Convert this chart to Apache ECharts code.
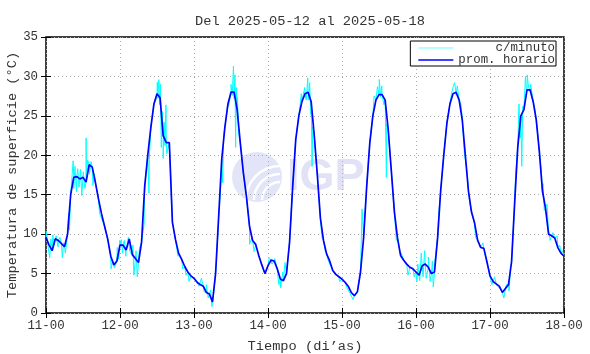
<!DOCTYPE html>
<html>
<head>
<meta charset="utf-8">
<script src="https://cdn.jsdelivr.net/npm/echarts@6/dist/echarts.min.js"></script>
<style>
html, body { margin: 0; padding: 0; background: #fff; }
#chart { width: 590px; height: 354px; }
</style>
</head>
<body>
<div id="chart"></div>
<script>
// x tick labels, one per day (hours from 11-00)
var tickLabels = ['11-00', '12-00', '13-00', '14-00', '15-00', '16-00', '17-00', '18-00'];

// hourly averages (prom. horario), 24 values per day
var may11 = [9.6, 8.6, 7.9, 9.4, 9.2, 8.8, 8.4, 10.0, 15.0, 17.2, 17.3, 17.0, 17.2, 16.6, 18.8, 18.5, 16.6, 14.5, 12.6, 11.0, 9.4, 7.2, 6.1, 6.6];
var may12 = [8.6, 8.6, 8.0, 9.4, 7.4, 6.9, 6.4, 9.0, 16.0, 20.0, 23.5, 26.5, 27.8, 27.3, 22.5, 21.6, 21.6, 11.5, 9.3, 7.6, 6.8, 5.9, 5.2, 4.7];
var may13 = [4.4, 3.9, 3.6, 3.4, 2.6, 2.4, 1.4, 5.0, 12.2, 19.5, 23.5, 26.5, 28.0, 28.0, 25.8, 21.6, 17.8, 14.8, 11.0, 9.2, 8.7, 7.3, 6.1, 5.0];
var may14 = [6.0, 6.7, 6.6, 5.6, 4.3, 4.1, 5.0, 9.0, 16.0, 22.0, 25.0, 26.8, 27.8, 28.0, 26.8, 22.5, 17.5, 12.0, 9.2, 7.5, 6.6, 5.4, 4.9, 4.6];
var may15 = [4.3, 3.9, 3.4, 2.6, 2.2, 2.7, 5.2, 9.5, 16.0, 21.5, 25.0, 27.0, 27.7, 27.7, 27.0, 23.2, 18.0, 12.8, 9.5, 7.3, 6.7, 6.2, 5.8, 5.6];
var may16 = [5.2, 4.8, 6.0, 6.2, 5.8, 5.0, 5.2, 9.5, 15.5, 20.0, 24.0, 26.5, 27.8, 28.0, 27.0, 24.5, 20.0, 15.5, 12.8, 11.4, 9.2, 8.3, 8.2, 6.5];
var may17 = [4.7, 4.0, 3.7, 3.4, 2.6, 3.1, 3.6, 6.5, 14.0, 21.0, 25.0, 25.8, 28.3, 28.3, 26.8, 24.5, 20.5, 15.5, 13.3, 10.0, 9.8, 9.5, 8.3, 7.6];
var may18 = [7.2];

// per-minute excursions (c/minuto): [hours from 11-00, degC]
var cMinuto = [
  [0.1, 10.4], [0.6, 8.6], [1.2, 7.0], [1.6, 9.4], [2.2, 9.9], [2.7, 8.6], [3.3, 9.8], [3.9, 8.4], [4.5, 9.6],
  [5.3, 7.0], [5.7, 8.9], [6.3, 7.6], [7.3, 12.6], [7.6, 10.5], [8.5, 17.6], [8.8, 19.3], [9.0, 15.8], [9.4, 18.6],
  [9.9, 15.4], [10.3, 18.3], [10.7, 16.0], [11.2, 18.2], [11.6, 14.9], [12.1, 17.9], [12.6, 15.8], [13.0, 22.2],
  [13.1, 16.8], [13.5, 19.4], [14.1, 17.6], [14.6, 19.2], [15.2, 16.2], [15.7, 17.6], [17.4, 12.6], [19.6, 11.1],
  [20.0, 9.2], [21.1, 5.6], [21.6, 6.7], [22.2, 5.7], [23.1, 8.3], [23.6, 6.8], [23.9, 9.2],
  [24.4, 9.3], [24.8, 7.6], [25.4, 9.2], [25.9, 7.2], [26.7, 9.6], [27.2, 7.8], [28.2, 8.6], [28.5, 4.8], [29.2, 7.9],
  [29.6, 4.6], [30.3, 8.2], [31.8, 11.2], [33.4, 15.2], [33.5, 19.5], [35.7, 27.0], [36.1, 29.3], [36.3, 27.2],
  [36.6, 29.6], [36.9, 26.4], [37.1, 29.0], [37.4, 21.0], [37.7, 25.6], [38.0, 19.6], [38.3, 24.2], [38.6, 21.2],
  [38.9, 26.4], [39.2, 20.2], [42.8, 7.2], [44.3, 5.6], [45.4, 4.8], [46.4, 4.0],
  [48.8, 4.1], [49.6, 3.4], [50.4, 4.4], [51.3, 2.7], [52.0, 3.6], [52.6, 1.9], [53.4, 2.9], [53.8, 0.8], [54.3, 2.2],
  [55.2, 6.0], [56.6, 15.5], [57.3, 16.5], [57.6, 22.5], [59.2, 26.2], [60.0, 29.0], [60.4, 27.6], [60.8, 31.3],
  [61.0, 27.2], [61.3, 30.2], [61.5, 21.0], [61.7, 28.6], [62.1, 27.4], [62.4, 23.0], [66.0, 8.7], [66.8, 9.6], [67.5, 7.8],
  [72.4, 7.0], [73.3, 6.2], [74.2, 6.9], [75.5, 3.6], [76.1, 3.2], [76.8, 5.2], [77.5, 6.4], [82.8, 27.8], [83.4, 26.6],
  [83.9, 28.6], [84.4, 27.0], [84.9, 29.8], [85.2, 27.0], [85.5, 29.2], [85.9, 25.2], [86.3, 18.6], [86.5, 23.6],
  [89.5, 9.5], [90.6, 7.8], [91.6, 6.6], [93.6, 5.4], [95.2, 4.0],
  [97.6, 3.2], [98.6, 2.5], [99.6, 1.7], [100.4, 2.4], [101.3, 2.8], [102.5, 13.2], [106.4, 27.5], [107.5, 28.7],
  [108.1, 29.6], [108.5, 27.4], [108.9, 28.8], [109.6, 26.4], [110.4, 17.2], [110.5, 24.0], [113.6, 9.2], [115.2, 7.6],
  [116.5, 6.6], [117.4, 4.8], [118.5, 5.9], [119.4, 4.6],
  [120.3, 4.0], [120.6, 6.2], [121.2, 4.1], [121.7, 7.6], [122.3, 4.6], [122.8, 7.9], [123.3, 4.4], [124.0, 7.1],
  [124.6, 4.0], [125.3, 6.6], [125.6, 3.3], [126.2, 6.9], [127.4, 12.8], [131.5, 27.8], [132.0, 28.6], [132.5, 29.2],
  [133.0, 27.6], [133.4, 28.8], [134.6, 26.5], [135.7, 20.2], [136.6, 17.8], [137.3, 14.4], [138.4, 13.0], [139.3, 9.6],
  [140.4, 8.9], [141.7, 8.9], [142.4, 7.4],
  [144.6, 3.6], [145.5, 4.6], [146.4, 3.4], [147.8, 2.9], [148.5, 1.9], [149.3, 3.6], [150.2, 2.8], [150.6, 5.6],
  [152.3, 17.6], [153.4, 26.5], [153.8, 22.2], [154.1, 25.2], [154.3, 18.6], [154.6, 26.2], [155.5, 30.0], [155.8, 28.0],
  [156.1, 30.2], [156.5, 28.6], [157.2, 29.0], [158.5, 26.0], [160.6, 18.2], [161.2, 16.4], [161.6, 13.0], [162.5, 13.8],
  [163.0, 10.5], [163.5, 9.2], [164.4, 10.2], [165.8, 9.8], [166.6, 8.6], [167.5, 7.9]
];

var hourly = [].concat(may11, may12, may13, may14, may15, may16, may17, may18);
var promData = hourly.map(function (v, i) { return [i, v]; });
// per-minute line runs through the hourly points plus the read-off excursions
var minutoData = promData.concat(cMinuto).sort(function (a, b) { return a[0] - b[0]; });

var mono = 'Liberation Mono';
var textColor = '#333';

var chart = echarts.init(document.getElementById('chart'));

var option = {
    animation: false,
    backgroundColor: '#fff',
    title: {
        text: 'Del 2025-05-12 al 2025-05-18',
        left: 190,
        top: 9,
        textStyle: { fontFamily: mono, fontSize: 13.7, fontWeight: 'normal', color: textColor }
    },
    grid: {
        left: 46, right: 26, top: 37, bottom: 41,
        outerBoundsMode: 'none',
        containLabel: false,
        show: true, borderColor: '#000', borderWidth: 1.5, backgroundColor: 'transparent'
    },
    legend: {
        orient: 'vertical',
        right: 34,
        top: 41,
        itemGap: 0,
        itemWidth: 35,
        itemHeight: 1.5,
        icon: 'rect',
        padding: [1, 1, 0, 8],
        borderColor: '#000',
        borderWidth: 1,
        backgroundColor: '#fff',
        textStyle: { fontFamily: mono, fontSize: 12.4, color: textColor, lineHeight: 12 },
        formatter: function (name) {
            return name === 'c/minuto' ? '     c/minuto' : name;
        },
        data: [
            { name: 'c/minuto', itemStyle: { color: '#9ffcfc' } },
            { name: 'prom. horario' }
        ]
    },
    graphic: [
        { type: 'circle', z: -1, shape: { cx: 257, cy: 177, r: 25 }, style: { fill: '#e1e5f7' } },
        { type: 'arc', z: -1, shape: { cx: 280, cy: 200, r: 18, startAngle: Math.PI, endAngle: 1.5 * Math.PI }, style: { stroke: '#fff', lineWidth: 2.5, fill: null } },
        { type: 'arc', z: -1, shape: { cx: 280, cy: 200, r: 26, startAngle: Math.PI, endAngle: 1.5 * Math.PI }, style: { stroke: '#fff', lineWidth: 2.5, fill: null } },
        { type: 'arc', z: -1, shape: { cx: 280, cy: 200, r: 34, startAngle: Math.PI, endAngle: 1.5 * Math.PI }, style: { stroke: '#fff', lineWidth: 2.5, fill: null } },
        { type: 'text', z: -1, left: 287, top: 155, style: { text: 'IGP', font: 'bold 45px "Liberation Sans"', fill: '#e2e2f6' } }
    ],
    xAxis: [
        {
            type: 'value',
            min: 0,
            max: 168,
            interval: 24,
            position: 'bottom',
            name: 'Tiempo (di\u2019as)',
            nameLocation: 'middle',
            nameGap: 26,
            nameMoveOverlap: false,
            nameTextStyle: { fontFamily: mono, fontSize: 13.7, color: textColor },
            axisLine: { show: false },
            axisTick: { inside: true, length: 5, lineStyle: { color: '#000', width: 1 } },
            axisLabel: {
                margin: 7,
                fontFamily: mono, fontSize: 12.4, color: textColor,
                formatter: function (v) { return tickLabels[Math.round(v / 24)]; }
            },
            splitLine: { show: true, lineStyle: { color: '#aaa', width: 1, type: [1, 3] } }
        },
        {
            type: 'value',
            min: 0,
            max: 168,
            interval: 24,
            position: 'top',
            axisLine: { show: false },
            axisTick: { inside: true, length: 5, lineStyle: { color: '#000', width: 1 } },
            axisLabel: { show: false },
            splitLine: { show: false }
        }
    ],
    yAxis: [
        {
            type: 'value',
            min: 0,
            max: 35,
            interval: 5,
            position: 'left',
            name: 'Temperatura de superficie (\u00b0C)',
            nameLocation: 'middle',
            nameGap: 27,
            nameMoveOverlap: false,
            nameTextStyle: { fontFamily: mono, fontSize: 13.7, color: textColor },
            axisLine: { show: false },
            axisTick: { show: true, inside: true, length: 5, lineStyle: { color: '#000', width: 1 } },
            axisLabel: { margin: 8, fontFamily: mono, fontSize: 12.4, color: textColor },
            splitLine: { show: true, lineStyle: { color: '#aaa', width: 1, type: [1, 3] } }
        },
        {
            type: 'value',
            min: 0,
            max: 35,
            interval: 5,
            position: 'right',
            axisLine: { show: false },
            axisTick: { show: true, inside: true, length: 5, lineStyle: { color: '#000', width: 1 } },
            axisLabel: { show: false },
            splitLine: { show: false }
        }
    ],
    series: [
        {
            name: 'c/minuto',
            type: 'line',
            xAxisIndex: 0,
            yAxisIndex: 0,
            data: minutoData,
            symbol: 'none',
            z: 2,
            itemStyle: { color: '#00ffff' },
            lineStyle: { color: '#00ffff', width: 1 }
        },
        {
            name: 'prom. horario',
            type: 'line',
            xAxisIndex: 0,
            yAxisIndex: 0,
            data: promData,
            symbol: 'none',
            z: 3,
            itemStyle: { color: '#0000ff' },
            lineStyle: { color: '#0000ff', width: 1.7 }
        }
    ]
};

chart.setOption(option);
</script>
</body>
</html>
